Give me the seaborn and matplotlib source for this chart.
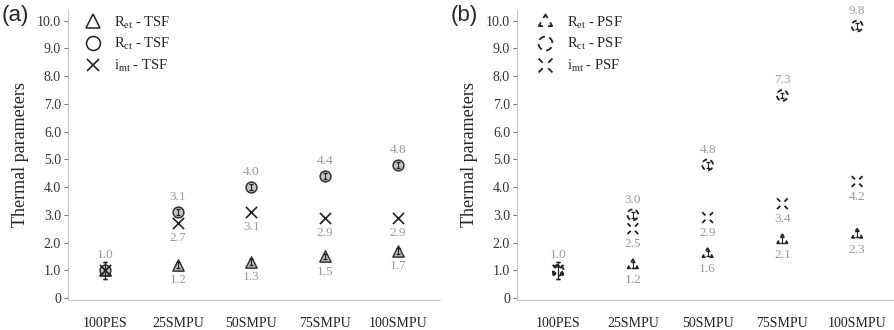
import numpy as np
import matplotlib
matplotlib.use('Agg')
import matplotlib.pyplot as plt
from matplotlib.path import Path
from matplotlib.lines import Line2D
import seaborn as sns

# ---- data ----
samples = ['100PES', '25SMPU', '50SMPU', '75SMPU', '100SMPU']

tsf_ret = [1.0, 1.2, 1.3, 1.5, 1.7]
tsf_rct = [1.0, 3.1, 4.0, 4.4, 4.8]
tsf_imt = [1.0, 2.7, 3.1, 2.9, 2.9]
tsf_ret_err = [0.3, 0.1, 0.1, 0.1, 0.1]
tsf_rct_err = [0.3, 0.12, 0.12, 0.1, 0.1]

psf_ret = [1.0, 1.2, 1.6, 2.1, 2.3]
psf_rct = [1.0, 3.0, 4.8, 7.3, 9.8]
psf_imt = [1.0, 2.5, 2.9, 3.4, 4.2]
psf_ret_err = [0.3, 0.1, 0.1, 0.1, 0.1]
psf_rct_err = [0.3, 0.1, 0.1, 0.1, 0.1]

yticks = [0, 1, 2, 3, 4, 5, 6, 7, 8, 9, 10]

sns.set_theme(style='white')
plt.rcParams['font.family'] = ['Liberation Serif', 'DejaVu Serif']
plt.rcParams['mathtext.fontset'] = 'custom'
plt.rcParams['mathtext.rm'] = 'Liberation Serif'
plt.rcParams['mathtext.it'] = 'Liberation Serif:italic'

LABEL_GRAY = '#9a9a9a'


def dashed_marker(verts, n_dash, fill=0.6, phase=0.0):
    # outline of a closed polygon broken into dashes, used as a marker path
    verts = np.asarray(verts, float)
    closed = np.vstack([verts, verts[:1]])
    seg = np.diff(closed, axis=0)
    seglen = np.hypot(seg[:, 0], seg[:, 1])
    cum = np.concatenate([[0], np.cumsum(seglen)])
    total = cum[-1]

    def point(s):
        s = s % total
        i = min(np.searchsorted(cum, s, side='right') - 1, len(seg) - 1)
        t = (s - cum[i]) / seglen[i]
        return closed[i] + t * seg[i]

    pts, codes = [], []
    period = total / n_dash
    for k in range(n_dash):
        s0 = (k + phase) * period
        for j, s in enumerate(np.linspace(s0, s0 + fill * period, 30)):
            pts.append(point(s))
            codes.append(Path.MOVETO if j == 0 else Path.LINETO)
    return Path(pts, codes)


tri = [(0, 1), (-0.95, -0.65), (0.95, -0.65)]
dash_tri = dashed_marker(tri, 3, fill=0.62, phase=-0.31)
ang = np.linspace(0, 2 * np.pi, 60, endpoint=False)
dash_circ = dashed_marker(np.c_[np.cos(ang), np.sin(ang)], 4, fill=0.6, phase=0.05)
xp, xc = [], []
for dx, dy in [(1, 1), (-1, 1), (-1, -1), (1, -1)]:
    xp += [(0.4 * dx, 0.4 * dy), (dx, dy)]
    xc += [Path.MOVETO, Path.LINETO]
dash_x = Path(xp, xc)


def annotate(ax, vals, above, skip_first=True):
    for i, v in enumerate(vals):
        if skip_first and i == 0:
            continue
        ax.annotate(f'{v:.1f}', (i, v), xytext=(0, 11 if above else -11),
                    textcoords='offset points', ha='center', va='center',
                    color=LABEL_GRAY, fontsize=9.5)


def style_axes(ax, xlim, ylabel):
    ax.set_xlim(*xlim)
    ax.set_ylim(-0.07, 10.38)
    ax.set_xticks(range(len(samples)))
    ax.set_xticklabels(samples, fontsize=10, color='#222')
    ax.set_yticks(yticks)
    ax.set_yticklabels(['0' if t == 0 else f'{t:.1f}' for t in yticks],
                       fontsize=10, color='#333')
    ax.tick_params(axis='y', left=True, length=3, width=0.8, color='#777', pad=2)
    ax.tick_params(axis='x', bottom=False, pad=6)
    for side in ['top', 'right']:
        ax.spines[side].set_visible(False)
    for side in ['left', 'bottom']:
        ax.spines[side].set_color('#c8c8c8')
        ax.spines[side].set_linewidth(0.8)
    ax.set_ylabel(ylabel, fontsize=13, labelpad=6)
    ax.set_xlabel('')


fig = plt.figure(figsize=(8.95, 3.3), dpi=100)
ax1 = fig.add_axes([68 / 895, 30 / 330, 372 / 895, 290 / 330])
ax2 = fig.add_axes([517 / 895, 30 / 330, 376 / 895, 290 / 330])
pos = list(range(len(samples)))

# ---- (a) TSF ----
ax1.errorbar(pos, tsf_ret, yerr=tsf_ret_err, fmt='none', ecolor='#222', elinewidth=0.8, capsize=1.5, zorder=3)
ax1.errorbar(pos, tsf_rct, yerr=tsf_rct_err, fmt='none', ecolor='#222', elinewidth=0.8, capsize=1.5, zorder=3)
sns.scatterplot(x=pos, y=tsf_ret, marker='^', s=65, color='#c4c4c4', edgecolor='#333',
                linewidth=1.1, ax=ax1, zorder=2)
sns.scatterplot(x=pos, y=tsf_rct, marker='o', s=60, color='#c4c4c4', edgecolor='#333',
                linewidth=1.1, ax=ax1, zorder=2)
sns.scatterplot(x=pos, y=tsf_imt, marker='x', s=65, color='#222', linewidth=1.2, ax=ax1, zorder=4)
annotate(ax1, tsf_rct, True, skip_first=False)
annotate(ax1, tsf_imt, False)
annotate(ax1, tsf_ret, False)
style_axes(ax1, (-0.5, 4.57), 'Thermal parameters')

h1 = [Line2D([], [], ls='none', marker='^', ms=10, mfc='none', mec='#222', mew=1.1),
      Line2D([], [], ls='none', marker='o', ms=10, mfc='none', mec='#222', mew=1.1),
      Line2D([], [], ls='none', marker='x', ms=9, mec='#222', mew=1.2)]
ax1.legend(h1, [r'R$_{\rm et}$ - TSF', r'R$_{\rm ct}$ - TSF', r'i$_{\rm mt}$ - TSF'],
           loc='upper left', bbox_to_anchor=(0.015, 1.025), frameon=False, fontsize=10.5,
           handlelength=1.0, handletextpad=1.0, labelspacing=0.4, borderpad=0.3)

# ---- (b) PSF ----
ax2.errorbar(pos, psf_ret, yerr=psf_ret_err, fmt='none', ecolor='#222', elinewidth=0.8, capsize=1.5, zorder=3)
ax2.errorbar(pos, psf_rct, yerr=psf_rct_err, fmt='none', ecolor='#222', elinewidth=0.8, capsize=1.5, zorder=3)
for vals, mk in [(psf_ret, dash_tri), (psf_rct, dash_circ), (psf_imt, dash_x)]:
    sns.scatterplot(x=pos, y=vals, marker=mk, s=60, color='#222', facecolor='none',
                    edgecolor='#222', linewidth=1.3, ax=ax2, zorder=2)
annotate(ax2, psf_rct, True, skip_first=False)
annotate(ax2, psf_imt, False)
annotate(ax2, psf_ret, False)
style_axes(ax2, (-0.55, 4.48), 'Thermal parameters')

h2 = [Line2D([], [], ls='none', marker=m, ms=10, mfc='none', mec='#222', mew=1.3)
      for m in [dash_tri, dash_circ, dash_x]]
ax2.legend(h2, [r'R$_{\rm et}$ - PSF', r'R$_{\rm ct}$ - PSF', r'i$_{\rm mt}$ - PSF'],
           loc='upper left', bbox_to_anchor=(0.025, 1.025), frameon=False, fontsize=10.5,
           handlelength=1.0, handletextpad=1.0, labelspacing=0.4, borderpad=0.3)

fig.text(0.002, 0.985, '(a)', family=['Liberation Sans'], fontsize=16, va='top', ha='left')
fig.text(0.503, 0.985, '(b)', family=['Liberation Sans'], fontsize=16, va='top', ha='left')

fig.savefig('out.png', dpi=100)
